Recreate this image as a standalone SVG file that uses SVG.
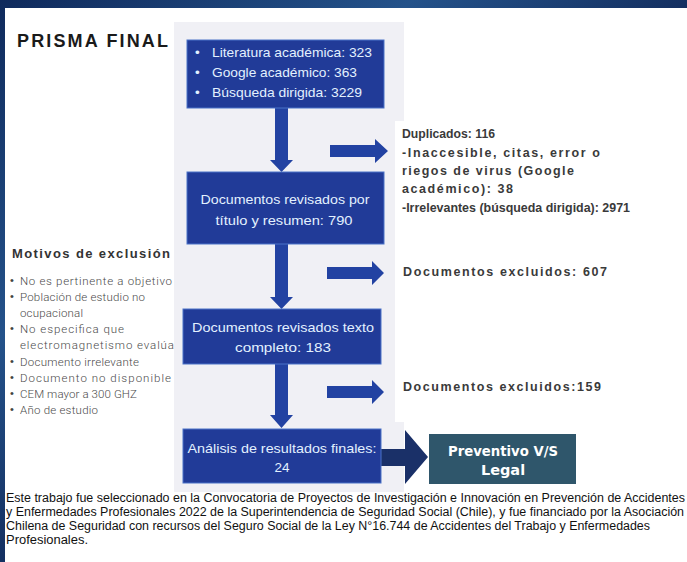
<svg xmlns="http://www.w3.org/2000/svg" width="687" height="562" viewBox="0 0 687 562">
<defs>
<linearGradient id="bg" x1="0" y1="0" x2="1" y2="1">
<stop offset="0" stop-color="#0f2a5c"/>
<stop offset="0.3" stop-color="#24528a"/>
<stop offset="0.6" stop-color="#0c1f4d"/>
<stop offset="1" stop-color="#163a78"/>
</linearGradient>
<style>
.box{fill:#213b98;stroke:#4a72c8;stroke-width:1}
.bt{font-family:"Liberation Sans",Arial,sans-serif;font-size:13.5px;fill:#e3f1ff}
.arr{fill:#2242a2}
.rt{font-family:"Liberation Sans",Arial,sans-serif;font-weight:bold;font-size:12.5px;fill:#3a3a3a}
.lt{font-family:"Roboto","Liberation Sans",sans-serif;font-weight:300;font-size:11.5px;fill:#4a4a4a}
.bu{font-family:"Liberation Sans",Arial,sans-serif;font-size:11px;fill:#444}
.ft{font-family:"Liberation Sans",Arial,sans-serif;font-size:12.5px;fill:#111}
</style>
</defs>
<rect x="0" y="0" width="687" height="562" fill="url(#bg)"/>
<rect x="5" y="8" width="682" height="554" fill="#ffffff"/>
<rect x="174" y="22" width="230" height="470" fill="#f0f0f5"/>
<rect x="395" y="121" width="292" height="301" fill="#ffffff"/>

<text x="17" y="47" font-family="Liberation Sans,Arial,sans-serif" font-weight="bold" font-size="18" fill="#1a1a1a" textLength="151" lengthAdjust="spacing">PRISMA FINAL</text>

<g id="connectors">
<polygon class="arr" points="275,108 288,108 288,160 293,160 281.5,172 270,160 275,160"/>
<polygon class="arr" points="275,244 288,244 288,297 293,297 281.5,309 270,297 275,297"/>
<polygon class="arr" points="275,364 288,364 288,415 293,415 281.5,428 270,415 275,415"/>
<polygon class="arr" points="330,145 375,145 375,139 388,151 375,163 375,157 330,157"/>
<polygon class="arr" points="327,267 372,267 372,261 384,273 372,285 372,279 327,279"/>
<polygon class="arr" points="327,386 372,386 372,380 384,392 372,404 372,398 327,398"/>
<polygon fill="#1a3068" points="378,449 405,449 405,430 428,457 405,484 405,466 378,466"/>
</g>

<g id="n1">
<rect class="box" x="187" y="40" width="197" height="68"/>
<text class="bt" x="195" y="57">•</text><text class="bt" x="212" y="57" textLength="160" lengthAdjust="spacingAndGlyphs">Literatura académica: 323</text>
<text class="bt" x="195" y="77">•</text><text class="bt" x="212" y="77" textLength="145" lengthAdjust="spacingAndGlyphs">Google académico: 363</text>
<text class="bt" x="195" y="97">•</text><text class="bt" x="212" y="97" textLength="150" lengthAdjust="spacingAndGlyphs">Búsqueda dirigida: 3229</text>
</g>
<g id="n2">
<rect class="box" x="187" y="172" width="197" height="72"/>
<text class="bt" x="285" y="204" text-anchor="middle" font-size="14.5" textLength="169" lengthAdjust="spacingAndGlyphs">Documentos revisados por</text>
<text class="bt" x="284" y="225" text-anchor="middle" font-size="14.5" textLength="137" lengthAdjust="spacingAndGlyphs">título y resumen: 790</text>
</g>
<g id="n3">
<rect class="box" x="183" y="309" width="198" height="55"/>
<text class="bt" x="283" y="332" text-anchor="middle" font-size="14.5" textLength="182" lengthAdjust="spacingAndGlyphs">Documentos revisados texto</text>
<text class="bt" x="283" y="352" text-anchor="middle" font-size="14.5" textLength="96" lengthAdjust="spacingAndGlyphs">completo: 183</text>
</g>
<g id="n4">
<rect class="box" x="183" y="429" width="198" height="54"/>
<text class="bt" x="282" y="453" text-anchor="middle" font-size="14.5" textLength="189" lengthAdjust="spacingAndGlyphs">Análisis de resultados finales:</text>
<text class="bt" x="282" y="472" text-anchor="middle" font-size="14.5">24</text>
</g>
<g id="n5">
<rect x="429" y="434" width="147" height="50" fill="#2f566b"/>
<text x="503" y="456" text-anchor="middle" font-family="DejaVu Sans,Liberation Sans,sans-serif" font-weight="bold" font-size="14.5" fill="#ffffff" textLength="110" lengthAdjust="spacingAndGlyphs">Preventivo V/S</text>
<text x="503" y="475" text-anchor="middle" font-family="DejaVu Sans,Liberation Sans,sans-serif" font-weight="bold" font-size="14.5" fill="#ffffff">Legal</text>
</g>

<g id="excl1">
<text class="rt" x="402" y="138" textLength="93" lengthAdjust="spacingAndGlyphs">Duplicados: 116</text>
<text class="rt" x="402" y="157" textLength="198" lengthAdjust="spacing">-Inaccesible, citas, error o</text>
<text class="rt" x="402" y="175" textLength="172" lengthAdjust="spacing">riegos de virus (Google</text>
<text class="rt" x="402" y="193" textLength="111" lengthAdjust="spacing">académico): 38</text>
<text class="rt" x="402" y="212" textLength="228" lengthAdjust="spacingAndGlyphs">-Irrelevantes (búsqueda dirigida): 2971</text>
</g>
<g id="excl2">
<text class="rt" x="403" y="276" textLength="204" lengthAdjust="spacing">Documentos excluidos: 607</text>
</g>
<g id="excl3">
<text class="rt" x="403" y="391" textLength="198" lengthAdjust="spacing">Documentos excluidos:159</text>
</g>

<g id="motivos">
<text x="12" y="258" font-family="Liberation Sans,Arial,sans-serif" font-weight="bold" font-size="13" fill="#333" textLength="158" lengthAdjust="spacing">Motivos de exclusión</text>
<g class="bu">
<text x="10" y="284">•</text><text x="10" y="300">•</text><text x="10" y="332">•</text><text x="10" y="365">•</text><text x="10" y="381">•</text><text x="10" y="397">•</text><text x="10" y="413">•</text>
</g>
<g class="lt">
<text x="20" y="285" textLength="152" lengthAdjust="spacing">No es pertinente a objetivo</text>
<text x="20" y="301" textLength="125" lengthAdjust="spacing">Población de estudio no</text>
<text x="20" y="317" textLength="63" lengthAdjust="spacing">ocupacional</text>
<text x="20" y="333" textLength="104" lengthAdjust="spacing">No especifica que</text>
<text x="20" y="349" textLength="154" lengthAdjust="spacing">electromagnetismo evalúa</text>
<text x="20" y="366" textLength="119" lengthAdjust="spacing">Documento irrelevante</text>
<text x="20" y="382" textLength="151" lengthAdjust="spacing">Documento no disponible</text>
<text x="20" y="398" textLength="117" lengthAdjust="spacing">CEM mayor a 300 GHZ</text>
<text x="20" y="414" textLength="78" lengthAdjust="spacing">Año de estudio</text>
</g>
</g>

<g id="footer" class="ft">
<text x="6" y="502" textLength="679" lengthAdjust="spacingAndGlyphs">Este trabajo fue seleccionado en la Convocatoria de Proyectos de Investigación e Innovación en Prevención de Accidentes</text>
<text x="6" y="516" textLength="678" lengthAdjust="spacingAndGlyphs">y Enfermedades Profesionales 2022 de la Superintendencia de Seguridad Social (Chile), y fue financiado por la Asociación</text>
<text x="6" y="530" textLength="644" lengthAdjust="spacingAndGlyphs">Chilena de Seguridad con recursos del Seguro Social de la Ley N°16.744 de Accidentes del Trabajo y Enfermedades</text>
<text x="6" y="544" textLength="82" lengthAdjust="spacingAndGlyphs">Profesionales.</text>
</g>
</svg>
